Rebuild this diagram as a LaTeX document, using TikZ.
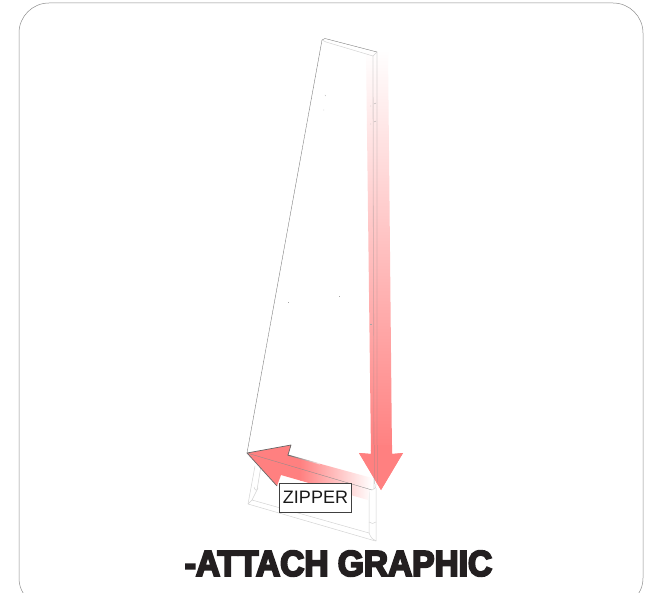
\documentclass[tikz,border=0pt]{standalone}
\usepackage{fontspec}
\setmainfont{Liberation Sans}
\newfontfamily\titlefont[FakeStretch=0.93,FakeBold=5.5]{Liberation Sans Bold}
\definecolor{arrowred}{HTML}{FF8080}
\definecolor{titleink}{HTML}{231F20}
\tikzset{
  panel/.style={draw=black!55,line width=0.35pt,line join=round},
  panelsoft/.style={draw=black!17,line width=0.5pt,line join=round},
  overred/.style={draw=black!45,opacity=.3,line width=0.8pt},
  speck/.style={draw=black!35,line width=0.35pt},
}
\begin{document}
\begin{tikzpicture}[x=1pt,y=-1pt]
\useasboundingbox (0,0) rectangle (648,593);
\fill[white] (0,0) rectangle (648,593);
\begin{scope}
\clip (0,0) rectangle (648,593);
\draw[black!45,line width=0.5pt,rounded corners=30pt] (19,3) rectangle (643,608);
\end{scope}
% lower sleeve
\draw[panelsoft] (255,466) -- (248,504) -- (372,540) .. controls (375,541) and (376,541) .. (376,541) -- (376,488);
\draw[panelsoft] (262,460) -- (257,490) -- (252,500) -- (369,533) -- (369,490);
\draw[panelsoft] (248,504) -- (252,500) (369,533) .. controls (371,538) and (373,540) .. (376,541);
\draw[panelsoft] (254,487) .. controls (255,491) and (257,491) .. (258,488);
\draw[panelsoft] (369,522) .. controls (371,524) and (374,524) .. (376,522);
% down arrow: shaft fading upward
\begin{scope}
\clip (366,50) -- (388,50) -- (392,454) -- (403,453) -- (381,490) -- (359,453) -- (371,454) -- cycle;
\shade[top color=white,bottom color=arrowred] (355,50) rectangle (410,450);
\fill[arrowred] (355,449.5) rectangle (410,495);
\end{scope}
% panel outline
\draw[panel] (247,453) -- (322,40) -- (325,38.5) -- (377,52);
\draw[panelsoft] (322,40) -- (326,42) -- (373,56);
\draw[panelsoft] (373,56) -- (377,52);
\draw[overred] (373,56) -- (374,489) (377,52) -- (377,484);
\draw[speck] (325,95) -- (325.6,96) (323,110) -- (324,110) (370,106) -- (371,106) (370,124) -- (371,124);
\draw[speck] (374,104) -- (376,103) (374,122) -- (376,121);
\draw[speck] (288,302) -- (289,302) (339,296) -- (340,296) (370,324) -- (372,324);
% left arrow, fading rightward
\begin{scope}
\clip (247,453) -- (291,445) -- (288,455) -- (372,478) -- (368,500) -- (281,475) -- (277,486) -- cycle;
\shade[left color=arrowred,right color=white,shading angle=90]
  (300,425) rectangle (372,510);
\fill[arrowred] (240,425) rectangle (300.5,510);
\end{scope}
\draw[black!60,line width=0.7pt,line join=round] (277,486) -- (247,453) -- (291,445) -- (288,455);
\shade[left color=black!60,right color=arrowred!20] (287.7,454.5) -- (320,463.5) -- (320,464.5) -- (287.5,455.5) -- cycle;
\draw[black!45,line width=0.35pt] (247,453) -- (372,490);
\draw[panelsoft] (372,490) .. controls (375,489) and (376,488) .. (376,484);
% down-arrow head in front of the left arrow
\fill[arrowred] (371,454) -- (359,453) -- (381,490) -- (403,453) -- (392,454) -- (392,445) -- (371,445) -- cycle;
\draw[overred] (374,445) -- (374,484) (377,445) -- (377,482);
\node[draw=black!75,fill=white,line width=0.5pt,inner sep=0pt,minimum width=72pt,minimum height=29pt,font=\fontsize{18}{20}\selectfont,text=black!90] (zipper) at (315.5,497.5) {ZIPPER};
\node[inner sep=0pt,text=titleink,font=\titlefont\fontsize{36}{40}\selectfont] (title) at (338.5,563.5) {-ATTACH GRAPHIC};
\end{tikzpicture}
\end{document}
